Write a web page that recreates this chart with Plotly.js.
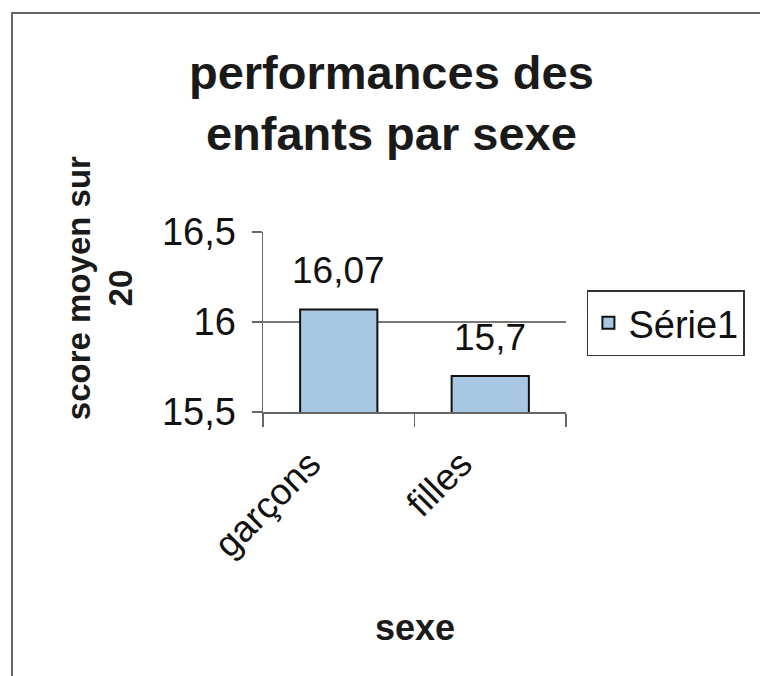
<!DOCTYPE html>
<html>
<head>
<meta charset="utf-8">
<script src="https://cdn.plot.ly/plotly-3.0.1.min.js"></script>
<style>
  html, body { margin: 0; padding: 0; background: #fff; }
  #wrap { position: relative; width: 760px; height: 676px; overflow: hidden; }
  #chart { width: 760px; height: 676px; }
  #frame { position: absolute; left: 11px; top: 12px; width: 800px; height: 720px;
           border-left: 2px solid #666; border-top: 2px solid #666; pointer-events: none; }
</style>
</head>
<body>
<div id="wrap">
  <div id="chart"></div>
  <div id="frame"></div>
</div>
<script>
const categories = ['garçons', 'filles'];
const scores = [16.07, 15.7];
const seriesName = 'Série1';
const yTicks = [15.5, 16, 16.5];

const labels = scores.map(v => String(v).replace('.', ','));
const FONT = 'Liberation Sans, Arial, sans-serif';

const trace = {
  type: 'bar',
  x: categories,
  y: scores,
  name: seriesName,
  marker: { color: '#a8c7e2', line: { color: '#111', width: 2 } },
  showlegend: true,
  hoverinfo: 'x+y'
};

const annotations = categories.map((c, i) => ({
  x: c, y: scores[i], xref: 'x', yref: 'y',
  text: labels[i], showarrow: false, yanchor: 'bottom', yshift: 16,
  font: { family: FONT, size: 37, color: '#111' }
}));

// axis titles placed as annotations for exact placement
annotations.push({
  xref: 'paper', yref: 'paper', x: -0.54, y: 0.69, xanchor: 'center', yanchor: 'middle',
  text: 'score moyen sur<br>20', textangle: -90, showarrow: false,
  font: { family: FONT, size: 33, weight: 'bold', color: '#1a1a1a' }
});
annotations.push({
  xref: 'paper', yref: 'paper', x: 0.5, y: -1.195, xanchor: 'center', yanchor: 'middle',
  text: 'sexe', showarrow: false,
  font: { family: FONT, size: 36, weight: 'bold', color: '#1a1a1a' }
});

const layout = {
  width: 760, height: 676,
  margin: { l: 263, r: 194, t: 232, b: 264 },
  paper_bgcolor: '#fff', plot_bgcolor: '#fff',
  separators: ', ',
  bargap: 0.49,
  font: { family: FONT, color: '#111' },
  title: {
    text: 'performances des<br>enfants par sexe',
    x: 0.515, xanchor: 'center', y: 0.868, yanchor: 'middle',
    font: { family: FONT, size: 47, weight: 'bold', color: '#1a1a1a' }
  },
  xaxis: {
    type: 'category',
    tickangle: -45,
    tickson: 'boundaries',
    ticks: 'outside', ticklen: 13, tickcolor: '#666', tickwidth: 1.5,
    showline: true, linecolor: '#666', linewidth: 1.5,
    showgrid: false,
    ticklabelshift: -29, ticklabelstandoff: 14,
    tickfont: { size: 37, color: '#111' },
    automargin: false
  },
  yaxis: {
    range: [15.5, 16.5],
    tickvals: yTicks,
    ticks: 'outside', ticklen: 10, tickcolor: '#666', tickwidth: 1.5,
    showline: true, linecolor: '#666', linewidth: 1.5,
    showgrid: true, gridcolor: '#777', gridwidth: 1.5,
    zeroline: false,
    ticklabelstandoff: 8,
    tickfont: { size: 38, color: '#111' },
    automargin: false
  },
  legend: {
    x: 1.069, xanchor: 'left', y: 0.494, yanchor: 'middle',
    bordercolor: '#333', borderwidth: 1.5, bgcolor: '#fff',
    font: { size: 38, color: '#111' }
  },
  annotations: annotations
};

Plotly.newPlot('chart', [trace], layout, { displayModeBar: false, staticPlot: true });
</script>
</body>
</html>
